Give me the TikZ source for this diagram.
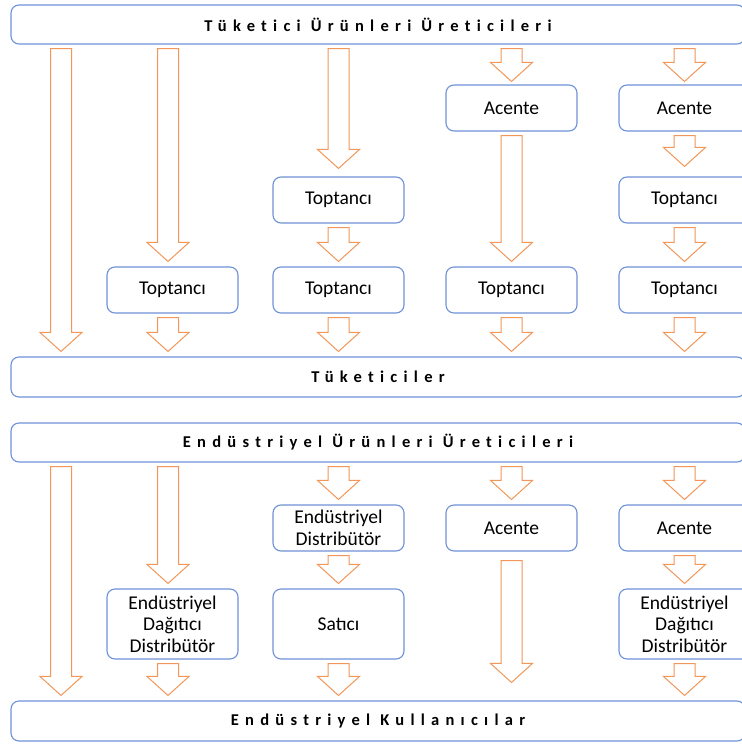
\documentclass[tikz,border=0pt]{standalone}
\usepackage{fontspec}
\setmainfont{Carlito}
\usepackage{tikz}
\usetikzlibrary{calc,positioning}

\definecolor{boxblue}{RGB}{110,145,215}
\definecolor{arrorange}{RGB}{242,150,90}

\tikzset{
	box/.style={draw=boxblue,line width=1.1pt,rounded corners=8pt,fill=white,minimum width=131pt,minimum height=46pt,align=center,font=\fontsize{19.5}{21.5}\selectfont,inner sep=1pt},
	tallbox/.style={box,minimum height=70pt},
	banner/.style={draw=boxblue,line width=1.1pt,rounded corners=8pt,minimum width=734pt,minimum height=39pt,font=\fontsize{16.5}{18}\selectfont\bfseries\addfontfeatures{LetterSpace=38,Ligatures=NoCommon}},
	blockarrow/.style={draw=arrorange,line width=1pt,fill=white,line join=miter}
}

% block arrow from #2 down to #3
\newcommand\blockarrow[3][]{%
	\draw[blockarrow,#1] let \p1=#2, \p2=#3 in
		(\x1-10.5pt,\y1-4pt) -- (\x1+10.5pt,\y1-4pt) -- (\x1+10.5pt,\y2+24pt) -- (\x1+21pt,\y2+24pt)
		-- (\x1,\y2+5pt) -- (\x1-21pt,\y2+24pt) -- (\x1-10.5pt,\y2+24pt) -- cycle;}

\begin{document}
\begin{tikzpicture}[x=1pt,y=-1pt]
	\useasboundingbox (0,0) rectangle (742,745);

	\coordinate (c1) at (61,0);
	\coordinate (c2) at (168,0);

	% consumer goods
	\node[banner] (prodA) at (378,24.5) {Tüketici Ürünleri Üreticileri};
	\node[box] (a4) at (511.5,108) {Acente};
	\node[box] (a5) at (684.5,108) {Acente};
	\node[box] (t3a) at (338.5,200) {Toptancı};
	\node[box] (t5a) at (684.5,200) {Toptancı};
	\node[box] (t2) at (172.5,290) {Toptancı};
	\node[box] (t3b) at (338.5,290) {Toptancı};
	\node[box] (t4) at (511.5,290) {Toptancı};
	\node[box] (t5b) at (684.5,290) {Toptancı};
	\node[banner,minimum height=40pt] (cons) at (378,377) {Tüketiciler};

	\blockarrow{(prodA.south -| c1)}{(cons.north -| c1)}
	\blockarrow{(prodA.south -| c2)}{(t2.north -| c2)}
	\blockarrow{(prodA.south -| t3a)}{($(t3a.north)+(0,-3)$)}
	\blockarrow{(prodA.south -| a4)}{($(a4.north)+(0,2)$)}
	\blockarrow{(prodA.south -| a5)}{($(a5.north)+(0,2)$)}
	\blockarrow{(a4.south)}{(t4.north)}
	\blockarrow{(a5.south)}{($(t5a.north)+(0,-5)$)}
	\blockarrow{(t3a.south)}{(t3b.north)}
	\blockarrow{(t5a.south)}{(t5b.north)}
	\blockarrow{(t2.south -| c2)}{(cons.north -| c2)}
	\blockarrow{(t3b.south)}{(cons.north -| t3b)}
	\blockarrow{(t4.south)}{(cons.north -| t4)}
	\blockarrow{(t5b.south)}{(cons.north -| t5b)}

	% industrial goods
	\node[banner] (prodB) at (378,442.5) {Endüstriyel Ürünleri Üreticileri};
	\node[box] (ed3) at (338.5,528) {Endüstriyel\\Distribütör};
	\node[box] (a4b) at (511.5,528) {Acente};
	\node[box] (a5b) at (684.5,528) {Acente};
	\node[tallbox] (dd2) at (172.5,624) {Endüstriyel\\Dağıtıcı\\Distribütör};
	\node[tallbox] (sat3) at (338.5,624) {Satıcı};
	\node[tallbox] (dd5) at (684.5,624) {Endüstriyel\\Dağıtıcı\\Distribütör};
	\node[banner,minimum height=40pt] (users) at (378,721) {Endüstriyel Kullanıcılar};

	\blockarrow{(prodB.south -| c1)}{(users.north -| c1)}
	\blockarrow{(prodB.south -| c2)}{(dd2.north -| c2)}
	\blockarrow{(prodB.south -| ed3)}{(ed3.north)}
	\blockarrow{(prodB.south -| a4b)}{(a4b.north)}
	\blockarrow{(prodB.south -| a5b)}{(a5b.north)}
	\blockarrow{(ed3.south)}{(sat3.north)}
	\blockarrow{(a5b.south)}{(dd5.north)}
	\blockarrow{($(a4b.south)+(0,5)$)}{($(users.north -| a4b)+(0,-13)$)}
	\blockarrow{(dd2.south -| c2)}{(users.north -| c2)}
	\blockarrow{(sat3.south)}{(users.north -| sat3)}
	\blockarrow{(dd5.south)}{(users.north -| dd5)}
\end{tikzpicture}
\end{document}
